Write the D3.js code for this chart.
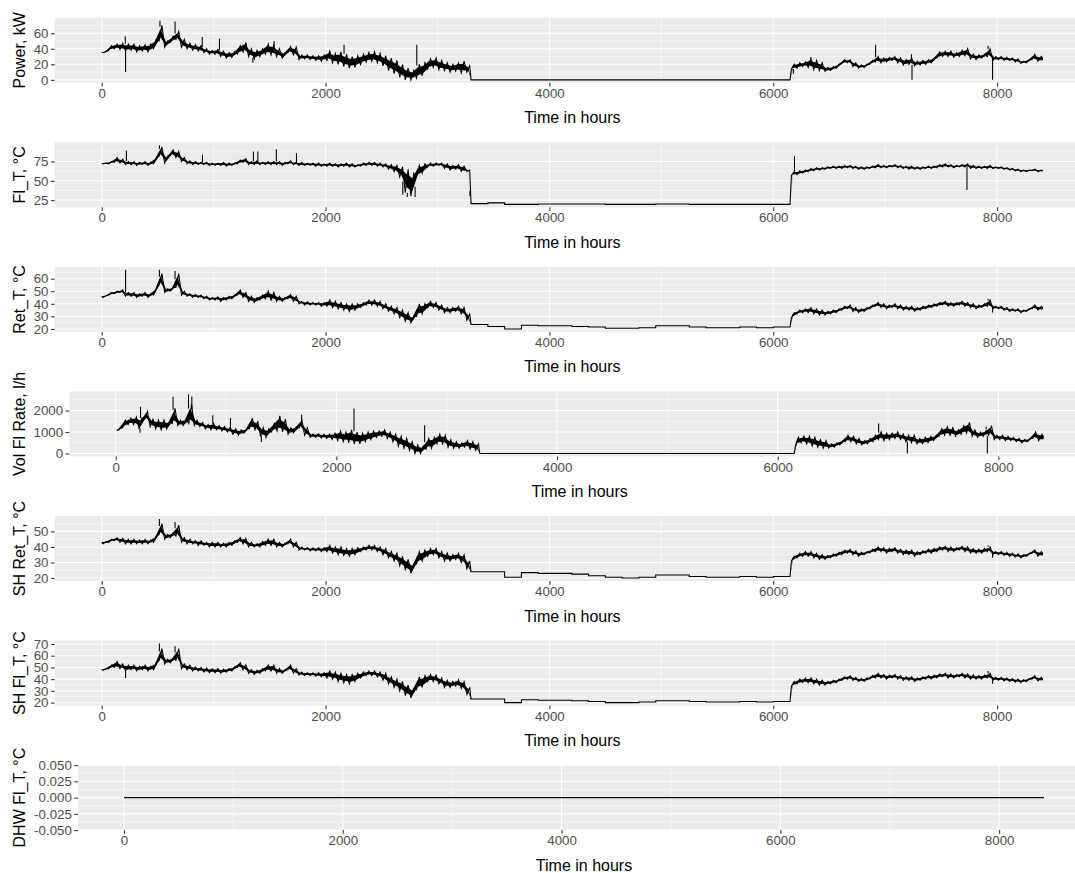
<!DOCTYPE html>
<html>
<head>
<meta charset="utf-8">
<script src="https://cdn.jsdelivr.net/npm/d3@7"></script>
<style>
  body { margin: 0; background: #ffffff; }
  svg { display: block; }
  text { font-family: "Liberation Sans", Arial, sans-serif; }
</style>
</head>
<body>
<script>
// ---------------------------------------------------------------------------
// Hourly plant log, summarised per time bin as the minimum and maximum value
// seen in that bin. Bins are 50 h long during the heating season and 150 h
// long during the summer shut-down (3300 h – 6150 h), where the signals are flat.
// Each series array holds 66 heating bins, 19 summer bins and 45 heating bins.
// Single-hour excursions are listed separately as spikes.
// ---------------------------------------------------------------------------
const lastHour = 8410;
const offStart = 3300, offEnd = 6150;
const binStarts = d3.range(0, offStart, 50)
  .concat(d3.range(offStart, offEnd, 150), d3.range(offEnd, 8400, 50));

const xTicks = [0, 2000, 4000, 6000, 8000];

// Power, kW
const powerLo = [
  35,38,40,39,37,38,36,37,36,40, 50,42,48,52,42,40,38,37,35,33,
  33,30,28,29,33,36,30,27,30,33, 32,30,28,35,32,26,27,26,25,24,
  25,22,20,17,15,16,20,23,24,22, 18,12,8,3,0,0,2,5,14,16,
  13,12,10,11,9,10,
  0,0,0,0,0,0,0,0,0,0,0,0,0,0,0,0,0,0,0,
  14,15,17,16,13,12,11,12,15,21, 22,17,15,16,20,23,22,23,25,22,
  19,20,18,19,20,22,28,30,30,29, 30,31,27,26,28,30,25,26,25,25,
  23,21,22,26,24];
const powerHi = [
  36,44,46,47,46,46,44,45,46,52, 70,50,56,62,52,47,45,44,40,38,
  39,37,35,36,44,48,40,38,40,46, 45,40,35,43,42,32,32,31,31,32,
  37,34,36,33,30,31,33,35,36,34, 31,28,25,20,15,12,20,22,27,28,
  25,22,20,22,24,18,
  0,0,0,0,0,0,0,0,0,0,0,0,0,0,0,0,0,0,0,
  20,22,23,27,25,22,16,17,20,26, 26,22,19,20,25,30,28,29,30,28,
  26,28,24,25,26,28,36,37,37,35, 38,40,33,32,33,40,30,30,29,28,
  27,24,26,33,30];
const powerSpikeHours  = [210, 213, 520, 655, 898, 1052, 1350, 1540, 2165, 2815, 6180, 6335, 6915, 7235, 7240, 7920, 7960];
const powerSpikeValues = [56, 10, 76, 75, 55, 53, 22, 50, 45, 45, 8, 29, 45, 33, 0, 44, 0];
const powerTicks = [0, 20, 40, 60];

// Flow temperature, °C
const flowLo = [
  72,72,74,73,71,71,70,71,70,72, 82,73,83,80,75,72,71,71,71,70,
  70,70,69,70,72,74,71,71,71,71, 71,71,70,72,71,70,70,70,69,69,
  69,69,68,69,68,68,69,70,70,69, 68,65,62,55,35,30,55,60,68,69,
  70,66,64,65,62,62,
  20.5,21.5,19.5,19.5,20,20,20,20,19.5,19.5,19.5,20,20,19.5,19.5,19.5,19.5,19.5,19.5,
  57,58,60,62,63,64,65,66,66,66, 67,66,65,65,66,67,67,67,68,67,
  66,65,65,65,66,66,67,68,68,67, 68,68,66,66,66,66,66,66,65,64,
  63,62,62,63,62];
const flowHi = [
  73,75,80,78,75,75,74,75,74,80, 94,82,90,88,80,76,75,74,74,73,
  73,74,73,73,77,79,75,76,74,75, 75,75,74,76,74,74,73,73,73,72,
  73,72,72,73,72,71,73,74,74,73, 72,71,70,68,65,60,70,72,73,73,
  73,72,70,71,69,64,
  20.5,21.5,19.5,19.5,20,20,20,20,19.5,19.5,19.5,20,20,19.5,19.5,19.5,19.5,19.5,19.5,
  62,63,64,66,67,67,68,69,69,70, 70,69,68,68,69,71,70,70,71,70,
  69,69,68,68,69,69,71,72,71,70, 71,72,70,69,69,70,68,68,67,66,
  65,64,64,65,64];
const flowSpikeHours  = [220, 515, 900, 1355, 1395, 1560, 1740, 2690, 2710, 2730, 2760, 2785, 2800, 3290, 6190, 7731];
const flowSpikeValues = [89, 96, 84, 88, 88, 91, 86, 32, 45, 29, 31, 36, 29, 30, 82, 38];
const flowTicks = [25, 50, 75];

// Return temperature, °C
const retLo = [
  45,47,48,49,46,46,45,46,45,47, 55,49,50,53,47,46,45,45,44,43,
  43,42,43,44,47,45,42,41,43,44, 43,42,42,44,42,40,39,39,39,38,
  38,37,36,35,34,35,37,39,39,38, 36,34,32,29,26,25,30,32,37,37,
  35,33,33,34,32,27,
  23.5,22,20,23,22.5,22.5,22,21.5,20.5,20.5,21,22.5,22.5,21.5,21,21,21.5,21,21.5,
  29,32,33,33,32,31,31,32,33,35, 36,34,33,34,36,38,37,36,37,36,
  35,35,34,35,36,37,38,39,38,38, 39,38,37,36,37,38,36,36,35,34,
  34,33,34,36,35];
const retHi = [
  46.5,49,50,51,49,49,48,49,48,52, 64,52,53,64,50,48,47.5,47,46,45,
  45.5,45,46,47,51,49,46,45,47,50, 49,46,45,47.5,46,42,41.5,41,41,41,
  43,42,41,40,40,40,41,43,43,42, 40,38,37,35,33,30,40,40,42,41,
  39,37,37,38,37,32,
  23.5,22,20,23,22.5,22.5,22,21.5,20.5,20.5,21,22.5,22.5,21.5,21,21,21.5,21,21.5,
  33,35,36,37,36,35,34,35,36,38, 39,37,36,37,39,41,40,39,40,39,
  38,38,37,38,39,40,41,42,41,41, 42,41,40,39,40,43,38,38,37,36,
  36,35,36,39,38];
const retSpikeHours  = [213, 515, 655, 3295, 7920, 7960];
const retSpikeValues = [67, 67, 66, 25, 44, 33];
const retTicks = [20, 30, 40, 50, 60];

// Volume flow rate, l/h
const volLo = [
  1050,1200,1350,1350,1150,1600,1250,1150,1100,1150, 1400,1300,1300,1400,1300,1250,1150,1100,1100,1050,
  1000,900,850,950,1150,1100,800,750,1000,1050, 1000,900,950,1200,850,750,750,720,700,650,
  600,550,500,450,450,550,650,750,800,700, 550,350,250,150,0,0,200,250,450,450,
  300,250,250,300,200,150,
  0,0,0,0,0,0,0,0,0,0,0,0,0,0,0,0,0,0,0,
  400,500,450,350,300,250,250,300,400,550, 550,450,400,450,550,650,600,650,700,650,
  550,500,450,450,500,600,800,850,850,800, 900,950,800,750,800,850,650,650,600,600,
  550,500,550,700,600];
const volHi = [
  1160,1550,1650,1700,1650,1950,1600,1550,1550,1500, 2100,1550,1600,2300,1550,1450,1350,1400,1300,1250,
  1200,1150,1100,1150,1650,1500,1200,1150,1400,1750, 1600,1200,1250,1550,1200,900,920,900,900,950,
  1050,1000,1100,1000,950,1000,1050,1050,1100,1000, 900,800,700,550,400,350,700,750,900,850,
  650,550,500,600,550,450,
  0,0,0,0,0,0,0,0,0,0,0,0,0,0,0,0,0,0,0,
  750,800,800,750,650,600,450,500,600,850, 800,700,600,700,850,1000,950,950,1000,900,
  850,850,700,750,800,850,1150,1250,1200,1100, 1300,1450,1100,1000,1050,1300,850,850,800,750,
  700,650,700,1000,900];
const volSpikeHours  = [220, 225, 520, 660, 690, 880, 1040, 1320, 1685, 2160, 2800, 6915, 7175, 7890, 7900];
const volSpikeValues = [960, 2170, 2640, 2750, 2650, 1780, 1650, 540, 1800, 2090, 1320, 1400, 0, 1250, 0];
const volTicks = [0, 1000, 2000];
const volFirstHour = 18;

// Space-heating return temperature, °C
const shRetLo = [
  42,43,44,43,42,42,42,42,42,43, 48,45,46,47,43,42,42,41,41,40,
  40,40,40,41,43,42,40,40,40,41, 41,40,40,42,40,38,38,37.5,37.5,37,
  37,36,35,34.5,34,35,37,38,38,37, 35,33,31,28,25,23,29,31,34,35,
  33,31,31,32,30,26,
  24,24,20.5,23.5,23,23,22.5,21.5,20.5,20,20.5,22,22,21,20.5,20.5,21,20.5,21,
  31,33,34,34,33,32,32,33,34,35, 36,35,34,35,36,37,37,36,37,36,
  35,35,34,35,36,36,37,38,37,37, 38,37,36,36,36,37,35,35,34.5,34,
  33.5,33,34,36,34];
const shRetHi = [
  43.5,45,46,45.5,45,45,44.5,45,44.5,47, 55,48,49,54,46,45,44,44,43,43,
  43,42.5,43,44,46,45.5,43,42,43.5,45, 45,43,42.5,45,43,40,39.5,39.5,39.5,39.5,
  41,40,40,39,39,39.5,40,41,41,40, 39,37,36,34,32,29,37,38,39,39,
  37,36,35,36,35,31,
  24,24,20.5,23.5,23,23,22.5,21.5,20.5,20,20.5,22,22,21,20.5,20.5,21,20.5,21,
  34,36,37,37,36,35,34.5,35.5,36.5,38, 38.5,37.5,36.5,37,38.5,40,39.5,39,39.5,38.5,
  38,38,37,37.5,38.5,39,40,40.5,40,39.5, 40.5,40,39,38.5,39,40,37,37,36.5,36,
  35.5,35,36,38,37];
const shRetSpikeHours  = [515, 655, 3295, 7920, 7960];
const shRetSpikeValues = [58, 56, 24, 41, 33];
const shRetTicks = [20, 30, 40, 50];

// Space-heating flow temperature, °C
const shFlowLo = [
  47.5,49,50,49,47,48,47,48,47,48, 56,53,54,56,49,48,47,47,46,45.5,
  45.5,45,46,47,50,48,45,44,45,47, 47,45,45,48,45,43.5,43,43,42.5,42,
  41,40,38,37,36,38,41,43,43,42, 39,36,33,30,26,24,31,33,38,38,
  36,33,33,34,32,27,
  23,23,20,22.5,22,22,21.5,21,20,20,20.5,21.5,21.5,21,20.5,20.5,21,20.5,21,
  34,36,37,37,36,35,35,36,37,39, 40,39,38,38,40,41,41,40,41,40,
  39,39,38,39,40,40,41,42,41,41, 42,41,40,40,40,41,39,39,38.5,38,
  37.5,37,38,40,38.5];
const shFlowHi = [
  49,52,55,53,52,52,51,52,51,54, 66,57,58,66,53,52,50.5,50,49.5,49,
  49,48.5,49,50.5,54,52,48,47.5,49,52, 52,49,48,52,49,46,45.5,45.5,45.5,45.5,
  47,46,45,44,44,45,46,47,47,46, 45,42,40,38,35,32,42,43,44,43.5,
  41,39,38,39.5,38,33,
  23,23,20,22.5,22,22,21.5,21,20,20,20.5,21.5,21.5,21,20.5,20.5,21,20.5,21,
  38,40,41,41,40,39,38,39,40,42, 43,41.5,40.5,41,43,45,44,43.5,44,43,
  42,42,41,42,43,43.5,44.5,45,44.5,44, 45,44.5,43.5,43,43.5,45,41.5,41.5,41,40.5,
  40,39.5,40.5,43,41.5];
const shFlowSpikeHours  = [213, 515, 655, 3295, 7920, 7960];
const shFlowSpikeValues = [41, 70.4, 68, 23, 47, 36];
const shFlowTicks = [20, 30, 40, 50, 60, 70];

// Domestic hot water flow temperature, °C (sensor reads zero all year)
const dhwHours  = [0, 8410];
const dhwValues = [0, 0];
const dhwTicks = [-0.05, -0.025, 0, 0.025, 0.05];

// ---------------------------------------------------------------------------
// Geometry helpers.
// bandPoints: [hour, min, max] per bin (heating bins at their centre, summer
//   bins held flat from start to end so the shut-down reads as steps).
// tracePoints: the hourly trace alternating between each bin's min and max.
// ---------------------------------------------------------------------------
const isOff = t => t >= offStart && t < offEnd;
const binEnd = i => (i < binStarts.length - 1 ? binStarts[i + 1] : lastHour);

function bandPoints(lo, hi, firstHour) {
  const pts = [[firstHour, lo[0], hi[0]]];
  binStarts.forEach((t, i) => {
    const end = binEnd(i);
    if (isOff(t)) pts.push([t, lo[i], hi[i]], [end, lo[i], hi[i]]);
    else pts.push([(t + end) / 2, lo[i], hi[i]]);
  });
  pts.push([lastHour, lo[lo.length - 1], hi[hi.length - 1]]);
  return pts;
}

function tracePoints(lo, hi, firstHour) {
  const pts = [[firstHour, (lo[0] + hi[0]) / 2]];
  binStarts.forEach((t, i) => {
    const end = binEnd(i), w = end - t;
    if (isOff(t)) pts.push([t, lo[i]], [end, hi[i]]);
    else pts.push([t + w * 0.25, lo[i]], [t + w * 0.75, hi[i]]);
  });
  pts.push([lastHour, (lo[lo.length - 1] + hi[hi.length - 1]) / 2]);
  return pts;
}

const W = 1075, H = 873;
const rowH = 124.55, panelOffset = 17.8, panelH = 65, panelRight = 1090;

function series(lo, hi, first, spH, spV) {
  return { band: bandPoints(lo, hi, first), trace: tracePoints(lo, hi, first), spH, spV };
}

const panels = [
  Object.assign({ label: "Power, kW",        left: 54.7, ticks: powerTicks },
    series(powerLo, powerHi, 0, powerSpikeHours, powerSpikeValues)),
  Object.assign({ label: "Fl_T, °C",         left: 54.7, ticks: flowTicks },
    series(flowLo, flowHi, 0, flowSpikeHours, flowSpikeValues)),
  Object.assign({ label: "Ret_T, °C",        left: 54.7, ticks: retTicks },
    series(retLo, retHi, 0, retSpikeHours, retSpikeValues)),
  Object.assign({ label: "Vol Fl Rate, l/h", left: 69.3, ticks: volTicks },
    series(volLo, volHi, volFirstHour, volSpikeHours, volSpikeValues)),
  Object.assign({ label: "SH Ret_T, °C",     left: 54.7, ticks: shRetTicks },
    series(shRetLo, shRetHi, 0, shRetSpikeHours, shRetSpikeValues)),
  Object.assign({ label: "SH Fl_T, °C",      left: 54.7, ticks: shFlowTicks },
    series(shFlowLo, shFlowHi, 0, shFlowSpikeHours, shFlowSpikeValues)),
  { label: "DHW Fl_T, °C", left: 78.0, ticks: dhwTicks, fmt: d => d.toFixed(3),
    band: dhwHours.map((h, i) => [h, dhwValues[i], dhwValues[i]]),
    trace: dhwHours.map((h, i) => [h, dhwValues[i]]), spH: [], spV: [] }
];

const svg = d3.select("body").append("svg")
  .attr("width", W).attr("height", H)
  .attr("viewBox", `0 0 ${W} ${H}`);

svg.append("rect").attr("width", W).attr("height", H).attr("fill", "#ffffff");

const majorW = 1.07, minorW = 0.53, lineW = 1.07;

panels.forEach((p, idx) => {
  const top = idx * rowH + panelOffset;
  const bottom = top + panelH;

  // x scale: hour range plus 5 % padding on each side
  const xPad = lastHour * 0.05;
  const x = d3.scaleLinear().domain([-xPad, lastHour + xPad]).range([p.left, panelRight]);

  // y scale: data extent plus 5 % padding (±0.05 when the series is constant)
  const allY = p.band.flatMap(d => [d[1], d[2]]).concat(p.spV);
  const [ymin, ymax] = d3.extent(allY);
  let yDom;
  if (ymax - ymin === 0) yDom = [ymin - 0.05, ymax + 0.05];
  else { const pad = (ymax - ymin) * 0.05; yDom = [ymin - pad, ymax + pad]; }
  const y = d3.scaleLinear().domain(yDom).range([bottom, top]);

  const g = svg.append("g");

  g.append("rect")
    .attr("x", p.left).attr("y", top)
    .attr("width", panelRight - p.left).attr("height", panelH)
    .attr("fill", "#EBEBEB");

  // minor grid
  const yStep = p.ticks[1] - p.ticks[0];
  const yMinor = [p.ticks[0] - yStep / 2]
    .concat(p.ticks.map(t => t + yStep / 2))
    .filter(v => v >= yDom[0] && v <= yDom[1]);
  const xStep = xTicks[1] - xTicks[0];
  const xMinor = [xTicks[0] - xStep / 2]
    .concat(xTicks.map(t => t + xStep / 2))
    .filter(v => v >= x.domain()[0] && v <= x.domain()[1]);

  g.selectAll(".ymin").data(yMinor).join("line")
    .attr("x1", p.left).attr("x2", panelRight)
    .attr("y1", d => y(d)).attr("y2", d => y(d))
    .attr("stroke", "#ffffff").attr("stroke-width", minorW);
  g.selectAll(".xmin").data(xMinor).join("line")
    .attr("x1", d => x(d)).attr("x2", d => x(d))
    .attr("y1", top).attr("y2", bottom)
    .attr("stroke", "#ffffff").attr("stroke-width", minorW);

  // major grid
  g.selectAll(".ymaj").data(p.ticks).join("line")
    .attr("x1", p.left).attr("x2", panelRight)
    .attr("y1", d => y(d)).attr("y2", d => y(d))
    .attr("stroke", "#ffffff").attr("stroke-width", majorW);
  g.selectAll(".xmaj").data(xTicks).join("line")
    .attr("x1", d => x(d)).attr("x2", d => x(d))
    .attr("y1", top).attr("y2", bottom)
    .attr("stroke", "#ffffff").attr("stroke-width", majorW);

  // dense core of the hourly trace: the middle part of each bin's range
  const core = 0.22;
  g.append("path")
    .datum(p.band)
    .attr("fill", "#000000")
    .attr("d", d3.area().x(d => x(d[0]))
      .y0(d => y(d[1] + (d[2] - d[1]) * core))
      .y1(d => y(d[2] - (d[2] - d[1]) * core)));

  // the trace itself, swinging between each bin's minimum and maximum
  g.append("path")
    .datum(p.trace)
    .attr("fill", "none")
    .attr("stroke", "#000000")
    .attr("stroke-width", lineW)
    .attr("stroke-linejoin", "miter")
    .attr("d", d3.line().x(d => x(d[0])).y(d => y(d[1])));

  // single-hour excursions, drawn from the band edge out to the value
  const bandHours = p.band.map(d => d[0]);
  const edgeAt = (h, v) => {
    const i = Math.max(1, Math.min(bandHours.length - 1, d3.bisectLeft(bandHours, h)));
    const a = p.band[i - 1], b = p.band[i];
    const f = b[0] === a[0] ? 0 : (h - a[0]) / (b[0] - a[0]);
    const lo = a[1] + (b[1] - a[1]) * f, hi = a[2] + (b[2] - a[2]) * f;
    return v > hi ? hi : (v < lo ? lo : v);
  };
  g.selectAll(".spike").data(p.spH.map((h, j) => [h, p.spV[j]])).join("line")
    .attr("x1", d => x(d[0])).attr("x2", d => x(d[0]))
    .attr("y1", d => y(edgeAt(d[0], d[1]))).attr("y2", d => y(d[1]))
    .attr("stroke", "#000000").attr("stroke-width", lineW);

  // axes
  const fmt = p.fmt || (d => String(d));
  const yAxis = d3.axisLeft(y).tickValues(p.ticks).tickFormat(fmt).tickSize(3.7).tickPadding(2.5);
  const ya = g.append("g").attr("transform", `translate(${p.left},0)`).call(yAxis);
  const xAxis = d3.axisBottom(x).tickValues(xTicks).tickFormat(d => String(d)).tickSize(3.7).tickPadding(2.0);
  const xa = g.append("g").attr("transform", `translate(0,${bottom})`).call(xAxis);

  [ya, xa].forEach(a => {
    a.select(".domain").remove();
    a.selectAll(".tick line").attr("stroke", "#333333").attr("stroke-width", 1.07);
    a.selectAll(".tick text")
      .attr("fill", "#4D4D4D")
      .style("font-size", "13.3px")
      .style("font-family", '"Liberation Sans", Arial, sans-serif');
  });

  // axis titles
  g.append("text")
    .attr("x", (p.left + panelRight) / 2)
    .attr("y", bottom + 40.5)
    .attr("text-anchor", "middle")
    .attr("fill", "#000000")
    .style("font-size", "16px")
    .text("Time in hours");

  g.append("text")
    .attr("transform", `translate(19,${(top + bottom) / 2}) rotate(-90)`)
    .attr("text-anchor", "middle")
    .attr("dy", "0.36em")
    .attr("fill", "#000000")
    .style("font-size", "16px")
    .text(p.label);
});
</script>
</body>
</html>
